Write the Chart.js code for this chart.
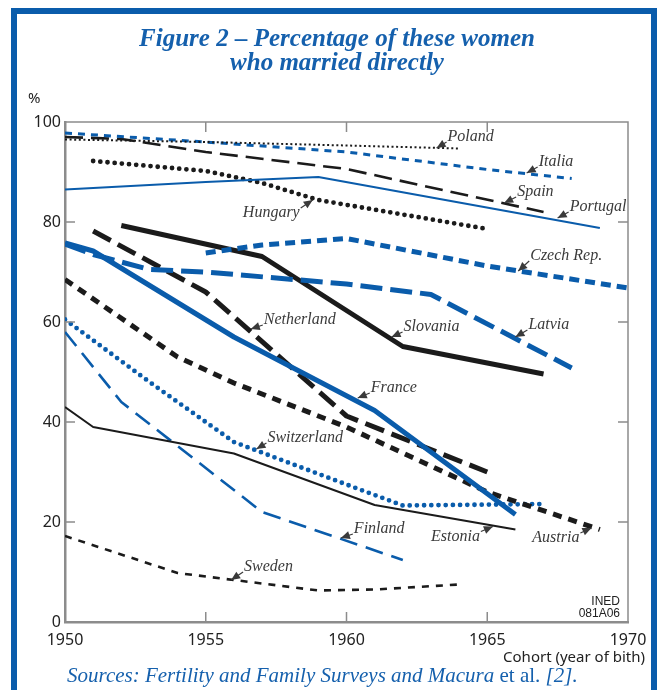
<!DOCTYPE html>
<html><head><meta charset="utf-8">
<script src="https://cdn.jsdelivr.net/npm/chart.js@4/dist/chart.umd.min.js"></script>
<style>html,body{margin:0;padding:0;background:#fff}#wrap{position:relative;width:661px;height:690px}</style>
</head><body><div id="wrap"><canvas id="c" width="661" height="690"></canvas></div>
<script>
// ---- data ----
const yearTicks=[1950,1955,1960,1965,1970];
const pctTicks=[0,20,40,60,80,100];
const polandX=[1950,1955,1960,1964];            const polandY=[96.5,96,95.3,94.7];
const italiaX=[1950,1955,1960,1965,1968];       const italiaY=[97.8,96,94,90.5,88.7];
const spainX=[1950,1952,1955,1960,1967];        const spainY=[97,96.6,94,90.6,82];
const portugalX=[1950,1955,1959,1969];          const portugalY=[86.5,88,89,78.8];
const hungaryX=[1951,1955,1957,1959,1965];      const hungaryY=[92.2,90.2,87.8,84.4,78.6];
const czechX=[1955,1957,1960,1965,1970];        const czechY=[73.8,75.4,76.7,71.2,66.8];
const latviaX=[1950,1951,1953,1955,1960,1963,1968]; const latviaY=[75.6,73.5,70.5,70,67.6,65.5,50.8];
const franceX=[1950,1951,1956,1961,1966];       const franceY=[75.8,74.2,57,42.3,21.5];
const slovaniaX=[1952,1957,1962,1967];          const slovaniaY=[79.3,73.1,55.1,49.6];
const netherlandX=[1951,1955,1960,1965];        const netherlandY=[78.2,66,41.2,30];
const austriaX=[1950,1954,1956,1960,1965,1969]; const austriaY=[68.5,53,47.8,39,26,18.5];
const switzX=[1950,1953,1956,1960,1962,1967];   const switzY=[60.5,48,36,27.5,23.3,23.6];
const estoniaX=[1950,1951,1956,1961,1966];      const estoniaY=[43,39,33.7,23.4,18.5];
const finlandX=[1950,1952,1957,1962];           const finlandY=[58,44,22,12.4];
const swedenX=[1950,1954,1956,1959,1961,1964];  const swedenY=[17.2,9.8,8.4,6.3,6.5,7.5];

// ---- styles ----
const BLUE='#0a5cab', BLACK='#1b1b1b', FRAME='#0a5cab', AXIS='#8c8c8c', LBL='#3a3a3a';
function pts(xs,ys){return xs.map((x,i)=>({x:x,y:ys[i]}));}
const series=[
 {name:'Poland',xs:polandX,ys:polandY,c:BLACK,w:2,d:[2,2.6],cap:'butt'},
 {name:'Italia',xs:italiaX,ys:italiaY,c:BLUE,w:3,d:[7,6],cap:'butt'},
 {name:'Spain',xs:spainX,ys:spainY,c:BLACK,w:2.6,d:[18,8],cap:'butt'},
 {name:'Portugal',xs:portugalX,ys:portugalY,c:BLUE,w:2.2,d:[],cap:'butt'},
 {name:'Hungary',xs:hungaryX,ys:hungaryY,c:BLACK,w:4.8,d:[0,7.2],cap:'round'},
 {name:'Czech Rep.',xs:czechX,ys:czechY,c:BLUE,w:5,d:[10,6],cap:'butt'},
 {name:'Latvia',xs:latviaX,ys:latviaY,c:BLUE,w:5,d:[22,8],cap:'butt'},
 {name:'France',xs:franceX,ys:franceY,c:BLUE,w:5,d:[],cap:'butt'},
 {name:'Slovania',xs:slovaniaX,ys:slovaniaY,c:BLACK,w:5,d:[],cap:'butt'},
 {name:'Netherland',xs:netherlandX,ys:netherlandY,c:BLACK,w:5,d:[20,8],cap:'butt'},
 {name:'Austria',xs:austriaX,ys:austriaY,c:BLACK,w:5,d:[9,7],cap:'butt'},
 {name:'Switzerland',xs:switzX,ys:switzY,c:BLUE,w:4.8,d:[0,7.2],cap:'round'},
 {name:'Estonia',xs:estoniaX,ys:estoniaY,c:BLACK,w:2,d:[],cap:'butt'},
 {name:'Finland',xs:finlandX,ys:finlandY,c:BLUE,w:2.6,d:[18,9],cap:'butt'},
 {name:'Sweden',xs:swedenX,ys:swedenY,c:BLACK,w:2.6,d:[7,7],cap:'butt'}
];
// label anchors: arrow tip in data units, text offset in px
const notes=[
 {t:'Poland',x:1963.2,y:94.8,dx:11,dy:-11},
 {t:'Italia',x:1966.4,y:89.8,dx:12,dy:-11},
 {t:'Spain',x:1965.6,y:83.8,dx:13,dy:-11},
 {t:'Portugal',x:1967.5,y:80.8,dx:12,dy:-11},
 {t:'Hungary',x:1958.8,y:84.4,dx:-13,dy:13},
 {t:'Czech Rep.',x:1966.1,y:70.2,dx:12,dy:-15},
 {t:'Netherland',x:1956.6,y:58.6,dx:13,dy:-9},
 {t:'Slovania',x:1961.6,y:57,dx:12,dy:-10},
 {t:'Latvia',x:1966,y:57,dx:13,dy:-12},
 {t:'France',x:1960.4,y:44.8,dx:13,dy:-10},
 {t:'Switzerland',x:1956.8,y:34.6,dx:11,dy:-11},
 {t:'Finland',x:1959.8,y:16.8,dx:13,dy:-9},
 {t:'Estonia',x:1965.2,y:19.1,dx:-13,dy:10},
 {t:'Austria',x:1968.7,y:18.8,dx:-12,dy:10},
 {t:'Sweden',x:1955.9,y:8.4,dx:13,dy:-13}
];

function arrow(ctx,sx,sy,tx,ty){
  ctx.beginPath();ctx.moveTo(sx,sy);ctx.lineTo(tx,ty);ctx.lineWidth=1.2;ctx.stroke();
  const a=Math.atan2(ty-sy,tx-sx),L=9,W=4;
  const bx=tx-L*Math.cos(a),by=ty-L*Math.sin(a);
  ctx.beginPath();ctx.moveTo(tx,ty);
  ctx.lineTo(bx+W*Math.sin(a),by-W*Math.cos(a));
  ctx.lineTo(bx-W*Math.sin(a),by+W*Math.cos(a));
  ctx.closePath();ctx.fill();
}

const deco={id:'deco',
 beforeDraw(ch){const c=ch.ctx;c.save();c.fillStyle='#fff';c.fillRect(0,0,ch.width,ch.height);c.restore();},
 afterDraw(ch){
  const c=ch.ctx,a=ch.chartArea,xs=ch.scales.x,ys=ch.scales.y;
  c.save();
  // plot frame top/right
  c.strokeStyle=AXIS;c.lineWidth=1.5;
  c.beginPath();c.moveTo(a.left,a.top);c.lineTo(a.right,a.top);c.lineTo(a.right,a.bottom);c.stroke();
  // inward ticks
  c.lineWidth=1.5;
  yearTicks.slice(1,-1).forEach(v=>{const p=xs.getPixelForValue(v);
    c.beginPath();c.moveTo(p,a.bottom);c.lineTo(p,a.bottom-10);c.moveTo(p,a.top);c.lineTo(p,a.top+10);c.stroke();});
  pctTicks.slice(1,-1).forEach(v=>{const p=ys.getPixelForValue(v);
    c.beginPath();c.moveTo(a.left,p);c.lineTo(a.left+10,p);c.moveTo(a.right,p);c.lineTo(a.right-10,p);c.stroke();});
  // country labels
  c.font='italic 16px "Liberation Serif"';c.fillStyle=LBL;c.strokeStyle=LBL;c.textBaseline='middle';
  notes.forEach(n=>{
    const tx=xs.getPixelForValue(n.x),ty=ys.getPixelForValue(n.y);
    const px=tx+n.dx,py=ty+n.dy;
    c.fillStyle=LBL;
    if(n.dx>0){c.textAlign='left';c.fillText(n.t,px,py);arrow(c,px-1,py+5,tx,ty);}
    else{c.textAlign='right';c.fillText(n.t,px,py);arrow(c,px+1,py-5,tx,ty);}
  });
  // axis texts
  c.fillStyle='#222';c.font='15px "Noto Sans"';c.textAlign='left';c.textBaseline='middle';
  c.fillText('%',28,99);
  c.textAlign='right';c.fillText('Cohort (year of bith)',645,658);
  c.font='12px "Liberation Sans"';c.fillText('INED',620,602);c.fillText('081A06',620,614);
  // title
  c.fillStyle='#1560ad';c.textAlign='center';c.textBaseline='middle';
  c.font='bold italic 25px "Liberation Serif"';
  c.fillText('Figure 2 \u2013 Percentage of these women',337,40);
  c.fillText('who married directly',337,64);
  // sources
  c.textAlign='left';let x=67;const sy=676;
  const F=21;
  const segs=[['italic '+F+'px "Liberation Serif"','Sources: Fertility and Family Surveys and Macura'],[F+'px "Liberation Serif"',' et al. '],['italic '+F+'px "Liberation Serif"','[2].']];
  segs.forEach(s=>{c.font=s[0];c.fillText(s[1],x,sy);x+=c.measureText(s[1]).width;});
  // blue frame
  c.strokeStyle=FRAME;c.lineWidth=6;
  c.beginPath();c.moveTo(14,700);c.lineTo(14,11);c.lineTo(654,11);c.lineTo(654,700);c.stroke();
  c.restore();
 }};

new Chart(document.getElementById('c'),{
 type:'scatter',
 data:{datasets:series.map(s=>({label:s.name,data:pts(s.xs,s.ys),showLine:true,borderColor:s.c,backgroundColor:s.c,
   borderWidth:s.w,borderDash:s.d,borderCapStyle:s.cap,borderJoinStyle:'round',pointRadius:0,pointHoverRadius:0,tension:0,fill:false}))},
 options:{responsive:false,devicePixelRatio:1,animation:false,
  layout:{padding:{top:122,right:33,left:0,bottom:0}},
  plugins:{legend:{display:false},tooltip:{enabled:false},title:{display:false}},
  scales:{
   x:{type:'linear',min:1950,max:1970,
      afterBuildTicks:s=>{s.ticks=yearTicks.map(v=>({value:v}));},
      afterFit:s=>{s.height=68;},
      grid:{display:false,drawTicks:false},border:{display:true,color:AXIS,width:2.5},
      ticks:{autoSkip:false,maxRotation:0,padding:9,color:'#222',font:{family:'Noto Sans',size:16},callback:v=>String(v)}},
   y:{min:0,max:100,
      afterBuildTicks:s=>{s.ticks=pctTicks.map(v=>({value:v}));},
      afterFit:s=>{s.width=65;},
      grid:{display:false,drawTicks:false},border:{display:true,color:AXIS,width:2.5},
      ticks:{padding:4,color:'#222',font:{family:'Noto Sans',size:16},callback:v=>String(v)}}
  }},
 plugins:[deco]
});
</script></body></html>
